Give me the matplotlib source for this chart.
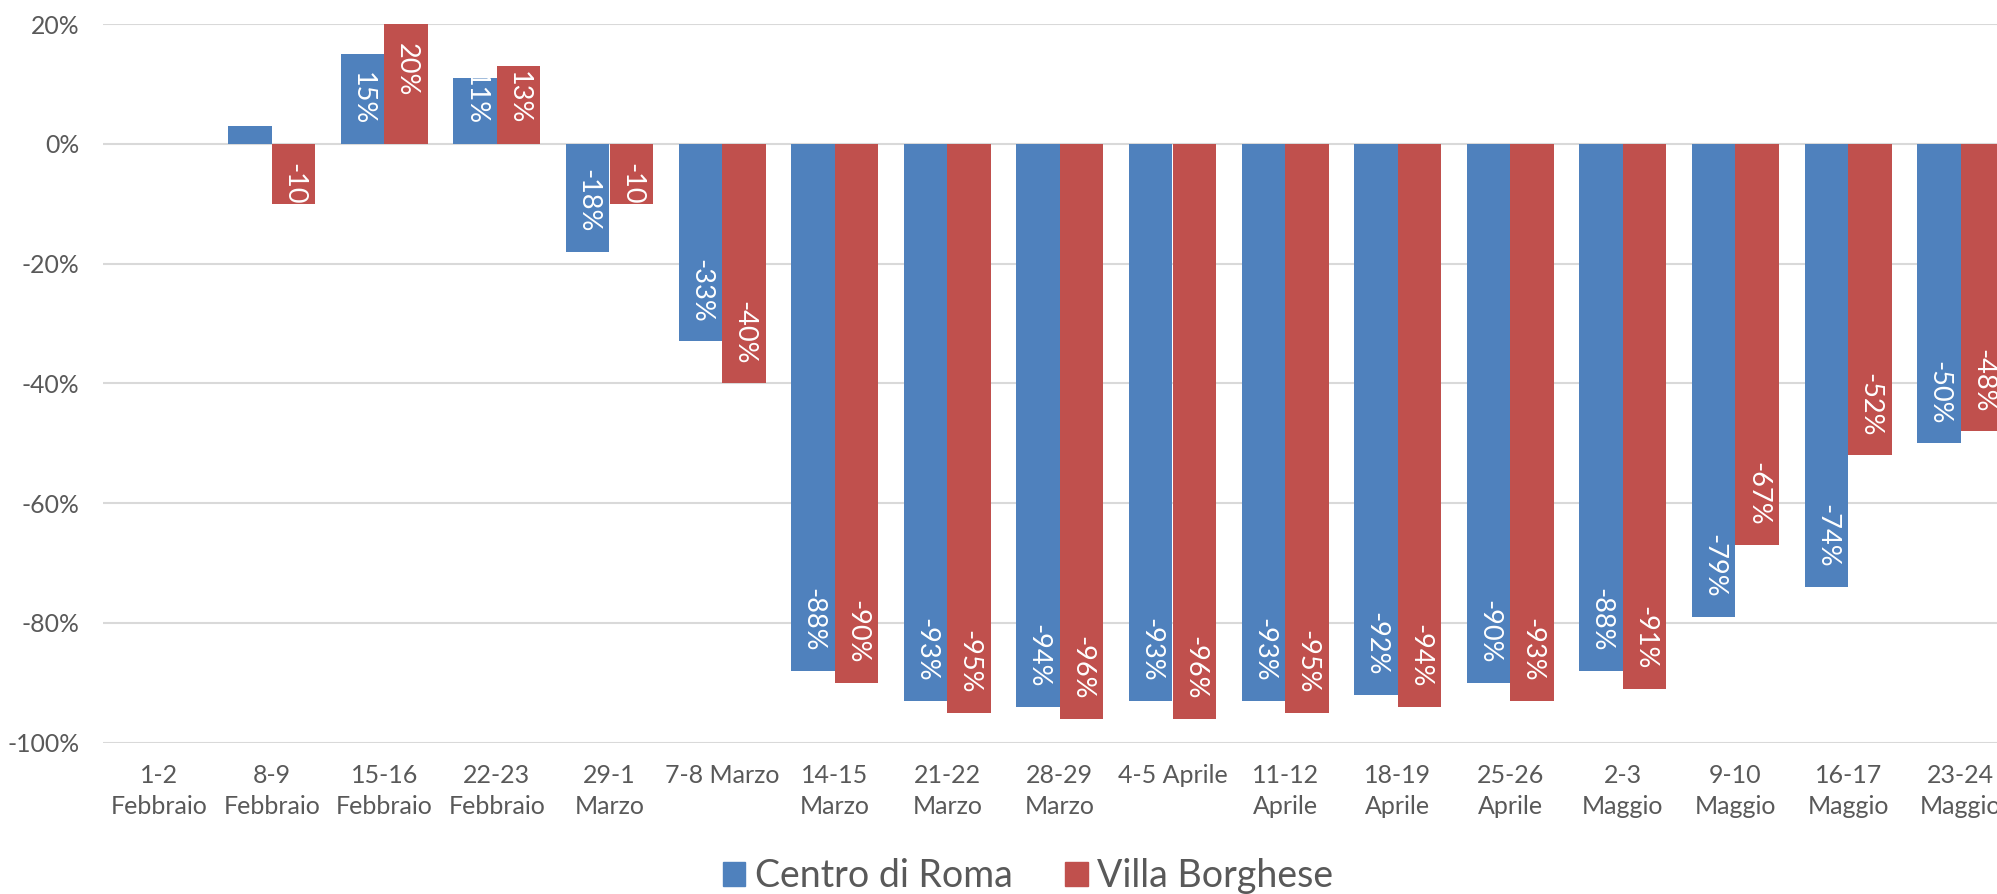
import numpy as np
import matplotlib
matplotlib.use("Agg")
import matplotlib.pyplot as plt

categories = ["1-2\nFebbraio", "8-9\nFebbraio", "15-16\nFebbraio", "22-23\nFebbraio",
              "29-1\nMarzo", "7-8 Marzo", "14-15\nMarzo", "21-22\nMarzo", "28-29\nMarzo",
              "4-5 Aprile", "11-12\nAprile", "18-19\nAprile", "25-26\nAprile",
              "2-3\nMaggio", "9-10\nMaggio", "16-17\nMaggio", "23-24\nMaggio"]
centro = [np.nan, 3, 15, 11, -18, -33, -88, -93, -94, -93, -93, -92, -90, -88, -79, -74, -50]
villa = [np.nan, -10, 20, 13, -10, -40, -90, -95, -96, -96, -95, -94, -93, -91, -67, -52, -48]
series_names = ["Centro di Roma", "Villa Borghese"]
colors = ["#4F81BD", "#C0504D"]
yticks = [20, 0, -20, -40, -60, -80, -100]

FONT = ["Lato", "DejaVu Sans"]
plt.rcParams['font.family'] = FONT

W, H = 1997, 894
fig = plt.figure(figsize=(W / 100, H / 100), dpi=100)
ax = fig.add_axes([102.8 / W, 1 - 742.7 / H, 17 * 112.6 / W, (742.7 - 24) / H])

x = np.arange(len(categories))
bw = 0.387
bars = []
for k, (vals, col, name) in enumerate(zip([centro, villa], colors, series_names)):
    off = (k - 0.5) * bw
    b = ax.bar(x + off, vals, width=bw, color=col, label=name, zorder=3, linewidth=0)
    bars.append((b, vals, off))

ax.set_xlim(-0.5, len(categories) - 0.5)
ax.set_ylim(-100, 20)
ax.set_yticks(yticks)
ax.set_yticklabels([f"{v}%" for v in yticks], fontsize=17.8, color="#595959")
ax.set_xticks(x)
ax.set_xticklabels(categories, fontsize=18, color="#595959", linespacing=1.42)
ax.tick_params(axis='both', length=0)
ax.tick_params(axis='y', pad=17)
ax.tick_params(axis='x', pad=15)
for s in ax.spines.values():
    s.set_visible(False)
ax.grid(axis='y', color="#D9D9D9", linewidth=1.5, zorder=0)
ax.set_axisbelow(True)

# data labels, rotated, inside end, clamped to stay inside the bar
pad_pt = 13.7
labels = []
for b, vals, off in bars:
    for i, v in enumerate(vals):
        if np.isnan(v):
            continue
        xi = x[i] + off
        if v >= 0:
            t = ax.annotate(f"{v:.0f}%", xy=(xi, v), xytext=(0, -pad_pt), textcoords='offset points',
                            ha='center', va='top', rotation=-90, color='white', fontsize=19.5, zorder=5)
        else:
            t = ax.annotate(f"{v:.0f}%", xy=(xi, v), xytext=(0, pad_pt), textcoords='offset points',
                            ha='center', va='bottom', rotation=-90, color='white', fontsize=19.5, zorder=5)
        labels.append((t, xi, v))

fig.canvas.draw()
r = fig.canvas.get_renderer()
pad_px = pad_pt * 100 / 72
y0 = ax.transData.transform((0, 0))[1]
for t, xi, v in labels:
    bb = t.get_window_extent(r)
    if v >= 0:
        if bb.y0 < y0 + pad_px:
            t.xy = (xi, 0)
            t.xyann = (0, pad_pt)
            t.set_va('bottom')
    else:
        if bb.y1 > y0 - pad_px:
            t.xy = (xi, 0)
            t.xyann = (0, -pad_pt)
            t.set_va('top')

handles = [plt.Rectangle((0, 0), 1, 1, color=c) for c in colors]
fig.legend(handles, series_names, loc='center', bbox_to_anchor=(1028 / W, 1 - 876 / H),
           ncol=2, frameon=False, fontsize=27, labelcolor="#595959",
           handlelength=0.6, handleheight=0.6, handletextpad=0.25, columnspacing=1.4)

fig.savefig("out.png", dpi=100)
